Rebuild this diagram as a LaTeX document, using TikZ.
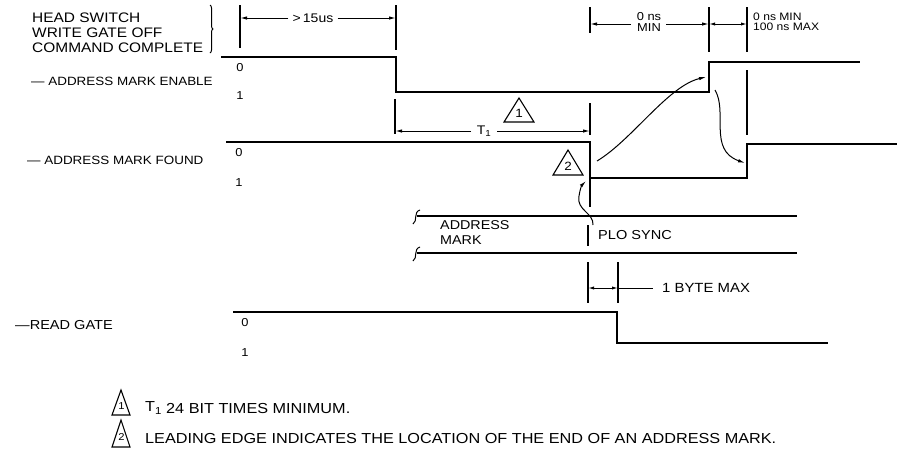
\documentclass[tikz,border=0pt]{standalone}
\usepackage{fontspec}
\setmainfont[FakeStretch=1.12]{Liberation Sans}
\usetikzlibrary{arrows.meta,decorations.pathreplacing}
\begin{document}
\begin{tikzpicture}[x=1pt,y=-1pt,
  sig/.style={line width=1.6pt},
  tk/.style={line width=1.2pt},
  dimln/.style={line width=1pt},
  arr/.style={-{Latex[length=7pt,width=3.4pt]}},
  darr/.style={{Latex[length=6pt,width=3.2pt]}-{Latex[length=6pt,width=3.2pt]}},
  toplbl/.style={inner sep=0,anchor=west,font=\fontsize{13.8}{14}\selectfont},
  lbl/.style={inner sep=0,anchor=west,font=\fontsize{12}{13}\selectfont},
  lvl/.style={inner sep=0,font=\fontsize{11.5}{12}\selectfont},
  dimtxt/.style={inner sep=0,font=\fontsize{12.5}{11}\selectfont},
  note/.style={inner sep=0,anchor=west,font=\fontsize{14.5}{15}\selectfont},
  trinum/.style={inner sep=0,font=\fontsize{12}{12}\selectfont},
  tri/.style={line width=1.1pt,line join=miter},
]
\useasboundingbox (0,0) rectangle (897,451);

% ---- left labels
\node[toplbl] (hs) at (32,18) {HEAD SWITCH};
\node[toplbl] (wg) at (32,33) {WRITE GATE OFF};
\node[toplbl] (cc) at (32,47.5) {COMMAND COMPLETE};
\draw[line width=1pt,decorate,decoration={brace,amplitude=3pt}] (210,5) -- (210,53);

\node[lbl] (ame) at (31,81) {— ADDRESS MARK ENABLE};
\node[lbl] (amf) at (27,160) {— ADDRESS MARK FOUND};
\node[lbl,font=\fontsize{13}{13}\selectfont] (rg) at (15,325) {—READ GATE};

% level labels
\node[lvl] (ame0) at (240,68) {0};
\node[lvl] (ame1) at (240,96) {1};
\node[lvl] (amf0) at (239,153) {0};
\node[lvl] (amf1) at (239,183) {1};
\node[lvl] (rg0) at (245,323) {0};
\node[lvl] (rg1) at (245,353) {1};

% ---- signals
\draw[sig] (221,57) -- (396,57) -- (396,92) -- (709,92) -- (709,62) -- (860,62);
\draw[sig] (226,142) -- (590,142) -- (590,207);
\draw[sig] (590,178) -- (747,178) -- (747,144) -- (897,144);
\draw[sig] (233,312) -- (617,312) -- (617,343) -- (828,343);

% ---- timing markers
\draw[tk] (240,5) -- (240,48);
\draw[tk] (396,5) -- (396,50);
\draw[tk] (395,99) -- (395,134);
\draw[tk] (590,7) -- (590,33);
\draw[tk] (590,103) -- (590,135);
\draw[tk] (709,7) -- (709,52);
\draw[tk] (747,7) -- (747,52);
\draw[tk] (747,70) -- (747,135);

% >15us
\node[dimtxt] (g15) at (313,18) {>\,15us};
\coordinate (g15l) at (240,18);
\coordinate (g15r) at (396,18);
\draw[dimln,arr] (g15.west) ++(-4,0) -- (g15l);
\draw[dimln,arr] (g15.east) ++(4,0) -- (g15r);

% 0 ns MIN
\node[dimtxt,align=center,font=\fontsize{11.5}{10.5}\selectfont] (zmin) at (649,22) {0 ns\\MIN};
\coordinate (zminl) at (590,24);
\coordinate (zminr) at (709,24);
\draw[dimln,arr] (631,24) -- (zminl);
\draw[dimln,arr] (666,24) -- (zminr);

% 0 ns MIN 100 ns MAX
\coordinate (hl) at (709,24);
\coordinate (hr) at (747,24);
\draw[dimln,darr] (hl) -- (hr);
\node[dimtxt,anchor=west,align=left,font=\fontsize{10.8}{10.5}\selectfont] (hmax) at (753,22) {0 ns MIN\\100 ns MAX};

% T1
\node[dimtxt] (t1) at (484,131) {T\textsubscript{1}};
\coordinate (t1l) at (395,131);
\coordinate (t1r) at (590,131);
\draw[dimln,arr] (471,131) -- (t1l);
\draw[dimln,arr] (497,131) -- (t1r);

% triangle 1 and 2
\draw[tri] (519,98) -- (534,122) -- (504,122) -- cycle;
\node[trinum] (n1) at (519,113.5) {1};
\draw[tri] (568,150) -- (583,175) -- (553,175) -- cycle;
\node[trinum] (n2) at (568,166) {2};

% curved arrows
\coordinate (c1s) at (597,161);
\coordinate (c1e) at (706,77);
\draw[dimln,arr] (c1s) .. controls (632,140) and (668,86) .. (c1e);
\coordinate (c2s) at (715,90);
\coordinate (c2e) at (745,163);
\draw[dimln,arr] (c2s) .. controls (728,112) and (708,150) .. (c2e);
\coordinate (c3s) at (593,225);
\coordinate (c3e) at (586,181);
\draw[dimln,arr] (c3s) .. controls (594,213) and (576,210) .. (579,196) .. controls (580,189) and (582,185) .. (c3e);

% address mark bus
\draw[tk] (417,216) -- (797,216);
\draw[tk] (417,253) -- (797,253);
\draw[dimln] (413,224) .. controls (418,221) and (413,212) .. (420,210);
\draw[dimln] (413,261) .. controls (418,258) and (413,249) .. (420,247);
\draw[tk] (588,225) -- (588,246);
\node[lbl,align=left,font=\fontsize{12.8}{14.5}\selectfont] (am) at (440,232.5) {ADDRESS\\MARK};
\node[lbl,font=\fontsize{13}{13}\selectfont] (plo) at (598,235) {PLO SYNC};

% 1 byte max
\draw[tk] (588,262) -- (588,303);
\draw[tk] (618,262) -- (618,303);
\coordinate (bl) at (588,288);
\coordinate (br) at (618,288);
\coordinate (bt) at (653,288);
\draw[dimln,darr] (bl) -- (br);
\draw[dimln] (br) -- (bt);
\node[lbl,font=\fontsize{13.3}{13}\selectfont] (bmax) at (662,288) {1 BYTE MAX};

% ---- legend
\draw[tri] (121,390) -- (130,415) -- (112,415) -- cycle;
\node[trinum,font=\fontsize{10}{10}\selectfont] (l1) at (121.5,406) {1};
\draw[tri] (121,420) -- (130,447) -- (112,447) -- cycle;
\node[trinum,font=\fontsize{10}{10}\selectfont] (l2) at (121.5,437) {2};
\node[note] (nt1) at (145,408) {T\textsubscript{1}};
\node[note] (nt1b) at (166,408) {24 BIT TIMES MINIMUM.};
\node[note] (nt2) at (145,438) {LEADING EDGE INDICATES THE LOCATION OF THE END OF AN ADDRESS MARK.};
\end{tikzpicture}
\end{document}
